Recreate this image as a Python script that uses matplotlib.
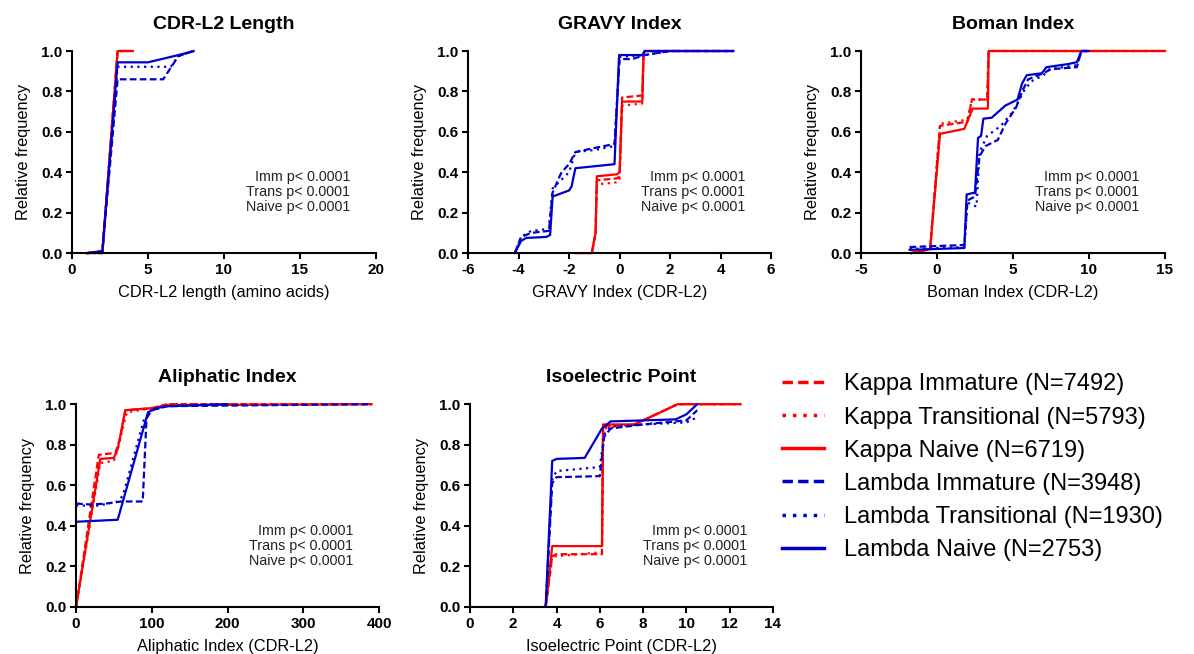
"""Cumulative distributions of CDR-L2 properties for kappa/lambda B-cell subsets."""

import matplotlib
matplotlib.use("Agg")
import matplotlib.pyplot as plt
from matplotlib.lines import Line2D

plt.rcParams["font.family"] = ["Liberation Sans", "DejaVu Sans"]
plt.rcParams["axes.unicode_minus"] = False

# series order: kappa imm, kappa trans, kappa naive, lambda imm, lambda trans, lambda naive
SERIES = [
    "Kappa Immature (N=7492)",
    "Kappa Transitional (N=5793)",
    "Kappa Naive (N=6719)",
    "Lambda Immature (N=3948)",
    "Lambda Transitional (N=1930)",
    "Lambda Naive (N=2753)",
]

# --- CDR-L2 length ---
len_kappa_imm_x = [1, 2, 3, 4]
len_kappa_imm_y = [0.0, 0.0, 1.0, 1.0]
len_kappa_trans_x = [1, 2, 3, 4]
len_kappa_trans_y = [0.0, 0.0, 1.0, 1.0]
len_kappa_naive_x = [1, 2, 3, 4]
len_kappa_naive_y = [0.0, 0.005, 1.0, 1.0]
len_lambda_imm_x = [1, 2, 3, 6, 7, 8]
len_lambda_imm_y = [0.0, 0.01, 0.86, 0.86, 0.975, 1.0]
len_lambda_trans_x = [1, 2, 3, 6.5, 7, 8]
len_lambda_trans_y = [0.0, 0.01, 0.922, 0.922, 0.975, 1.0]
len_lambda_naive_x = [1, 2, 3, 5, 7, 8]
len_lambda_naive_y = [0.0, 0.01, 0.944, 0.944, 0.98, 1.0]

# --- GRAVY index ---
gravy_kappa_imm_x = [-1.1, -0.95, -0.9, -0.1, 0.0, 0.1, 0.9, 0.95, 1.0, 4.5]
gravy_kappa_imm_y = [0.0, 0.1, 0.36, 0.37, 0.38, 0.77, 0.78, 0.99, 1.0, 1.0]
gravy_kappa_trans_x = [-1.1, -0.95, -0.9, -0.1, 0.0, 0.1, 0.9, 0.95, 1.0, 4.5]
gravy_kappa_trans_y = [0.0, 0.1, 0.34, 0.35, 0.36, 0.73, 0.74, 0.99, 1.0, 1.0]
gravy_kappa_naive_x = [-1.75, -1.1, -0.95, -0.9, -0.1, 0.0, 0.1, 0.9, 0.95, 1.0, 4.5]
gravy_kappa_naive_y = [0.0, 0.0, 0.1, 0.38, 0.39, 0.40, 0.75, 0.75, 0.99, 1.0, 1.0]
gravy_lambda_imm_x = [-4.15, -3.9, -3.5, -2.8, -2.65, -2.3, -2.0, -1.75, -1.0, -0.2, 0.0, 0.5, 1.0, 2.0, 4.5]
gravy_lambda_imm_y = [0.0, 0.08, 0.10, 0.11, 0.30, 0.40, 0.44, 0.50, 0.52, 0.54, 0.96, 0.96, 0.98, 1.0, 1.0]
gravy_lambda_trans_x = [-4.15, -3.9, -3.5, -2.8, -2.65, -2.0, -1.75, -1.0, -0.2, 0.0, 1.0, 2.0, 4.5]
gravy_lambda_trans_y = [0.0, 0.08, 0.11, 0.12, 0.32, 0.40, 0.50, 0.51, 0.53, 0.97, 0.98, 1.0, 1.0]
gravy_lambda_naive_x = [-4.15, -3.9, -3.7, -2.9, -2.75, -2.65, -2.0, -1.9, -1.75, -0.2, -0.02, 0.9, 1.0, 4.5]
gravy_lambda_naive_y = [0.0, 0.06, 0.075, 0.08, 0.09, 0.28, 0.31, 0.33, 0.42, 0.44, 0.98, 0.98, 1.0, 1.0]

# --- Boman index ---
boman_kappa_imm_x = [-1.7, -0.45, 0.2, 2.0, 2.3, 3.3, 3.4, 15]
boman_kappa_imm_y = [0.0, 0.02, 0.63, 0.65, 0.76, 0.76, 1.0, 1.0]
boman_kappa_trans_x = [-1.7, -0.45, 0.2, 2.0, 2.3, 3.3, 3.4, 15]
boman_kappa_trans_y = [0.0, 0.02, 0.64, 0.66, 0.76, 0.76, 1.0, 1.0]
boman_kappa_naive_x = [-1.7, -0.45, 0.2, 1.8, 2.35, 3.35, 3.4, 15]
boman_kappa_naive_y = [0.0, 0.02, 0.59, 0.615, 0.715, 0.715, 1.0, 1.0]
boman_lambda_imm_x = [-1.8, 1.8, 2.0, 2.5, 2.8, 3.2, 4.0, 4.5, 5.2, 5.6, 6.0, 7.0, 7.5, 9.2, 9.5, 10]
boman_lambda_imm_y = [0.03, 0.04, 0.26, 0.28, 0.48, 0.53, 0.56, 0.64, 0.72, 0.80, 0.86, 0.89, 0.91, 0.92, 1.0, 1.0]
boman_lambda_trans_x = [-1.8, 1.8, 2.0, 2.6, 2.8, 3.3, 4.2, 5.0, 5.7, 6.2, 7.0, 7.4, 9.2, 9.5, 10]
boman_lambda_trans_y = [0.02, 0.03, 0.25, 0.23, 0.50, 0.58, 0.63, 0.70, 0.80, 0.85, 0.88, 0.91, 0.93, 1.0, 1.0]
boman_lambda_naive_x = [-1.8, 1.8, 1.95, 2.5, 2.7, 2.9, 3.05, 3.6, 4.5, 5.3, 5.6, 5.9, 6.9, 7.2, 8.6, 9.2, 9.5, 10]
boman_lambda_naive_y = [0.016, 0.025, 0.29, 0.30, 0.57, 0.58, 0.665, 0.67, 0.73, 0.76, 0.84, 0.88, 0.89, 0.92, 0.935, 0.945, 1.0, 1.0]

# --- Aliphatic index ---
ali_kappa_imm_x = [0, 30, 52, 58, 65, 100, 120, 390]
ali_kappa_imm_y = [0.0, 0.75, 0.76, 0.83, 0.97, 0.98, 1.0, 1.0]
ali_kappa_trans_x = [0, 32, 50, 55, 67, 100, 120, 390]
ali_kappa_trans_y = [0.0, 0.71, 0.72, 0.78, 0.96, 0.98, 1.0, 1.0]
ali_kappa_naive_x = [0, 32, 50, 55, 65, 80, 100, 120, 390]
ali_kappa_naive_y = [0.0, 0.73, 0.735, 0.78, 0.97, 0.975, 0.98, 0.995, 1.0]
ali_lambda_imm_x = [0, 20, 40, 60, 88, 93, 100, 120, 390]
ali_lambda_imm_y = [0.51, 0.505, 0.51, 0.52, 0.52, 0.93, 0.97, 0.99, 1.0]
ali_lambda_trans_x = [0, 30, 55, 62, 90, 100, 120, 200]
ali_lambda_trans_y = [0.50, 0.50, 0.52, 0.55, 0.93, 0.97, 0.99, 1.0]
ali_lambda_naive_x = [0, 55, 95, 105, 120, 200]
ali_lambda_naive_y = [0.42, 0.43, 0.96, 0.98, 0.99, 1.0]

# --- Isoelectric point ---
pi_kappa_imm_x = [3.5, 3.8, 4.0, 6.1, 6.15, 7.6, 9.6, 12.5]
pi_kappa_imm_y = [0.0, 0.25, 0.26, 0.26, 0.89, 0.90, 1.0, 1.0]
pi_kappa_trans_x = [3.5, 3.8, 4.0, 6.1, 6.15, 7.6, 9.6, 12.5]
pi_kappa_trans_y = [0.0, 0.25, 0.25, 0.27, 0.88, 0.90, 1.0, 1.0]
pi_kappa_naive_x = [3.5, 3.8, 6.1, 6.15, 7.6, 9.6, 12.5]
pi_kappa_naive_y = [0.0, 0.30, 0.30, 0.90, 0.90, 1.0, 1.0]
pi_lambda_imm_x = [3.5, 3.8, 4.0, 6.0, 6.2, 6.5, 8.0, 10.0, 10.5]
pi_lambda_imm_y = [0.0, 0.61, 0.64, 0.645, 0.84, 0.88, 0.90, 0.92, 0.97]
pi_lambda_trans_x = [3.5, 3.8, 4.0, 6.0, 6.2, 6.5, 8.0, 10.0, 10.4]
pi_lambda_trans_y = [0.0, 0.63, 0.67, 0.69, 0.85, 0.89, 0.90, 0.91, 0.93]
pi_lambda_naive_x = [3.5, 3.8, 4.0, 5.3, 6.1, 6.5, 8.0, 9.5, 10.0, 10.5]
pi_lambda_naive_y = [0.0, 0.72, 0.73, 0.735, 0.88, 0.915, 0.92, 0.925, 0.95, 1.0]

PANELS = [
    {
        "title": "CDR-L2 Length",
        "xlabel": "CDR-L2 length (amino acids)",
        "xlim": (0, 20), "xticks": [0, 5, 10, 15, 20],
        "data": [
            (len_kappa_imm_x, len_kappa_imm_y), (len_kappa_trans_x, len_kappa_trans_y),
            (len_kappa_naive_x, len_kappa_naive_y), (len_lambda_imm_x, len_lambda_imm_y),
            (len_lambda_trans_x, len_lambda_trans_y), (len_lambda_naive_x, len_lambda_naive_y),
        ],
    },
    {
        "title": "GRAVY Index",
        "xlabel": "GRAVY Index (CDR-L2)",
        "xlim": (-6, 6), "xticks": [-6, -4, -2, 0, 2, 4, 6],
        "data": [
            (gravy_kappa_imm_x, gravy_kappa_imm_y), (gravy_kappa_trans_x, gravy_kappa_trans_y),
            (gravy_kappa_naive_x, gravy_kappa_naive_y), (gravy_lambda_imm_x, gravy_lambda_imm_y),
            (gravy_lambda_trans_x, gravy_lambda_trans_y), (gravy_lambda_naive_x, gravy_lambda_naive_y),
        ],
    },
    {
        "title": "Boman Index",
        "xlabel": "Boman Index (CDR-L2)",
        "xlim": (-5, 15), "xticks": [-5, 0, 5, 10, 15],
        "data": [
            (boman_kappa_imm_x, boman_kappa_imm_y), (boman_kappa_trans_x, boman_kappa_trans_y),
            (boman_kappa_naive_x, boman_kappa_naive_y), (boman_lambda_imm_x, boman_lambda_imm_y),
            (boman_lambda_trans_x, boman_lambda_trans_y), (boman_lambda_naive_x, boman_lambda_naive_y),
        ],
    },
    {
        "title": "Aliphatic Index",
        "xlabel": "Aliphatic Index (CDR-L2)",
        "xlim": (0, 400), "xticks": [0, 100, 200, 300, 400],
        "data": [
            (ali_kappa_imm_x, ali_kappa_imm_y), (ali_kappa_trans_x, ali_kappa_trans_y),
            (ali_kappa_naive_x, ali_kappa_naive_y), (ali_lambda_imm_x, ali_lambda_imm_y),
            (ali_lambda_trans_x, ali_lambda_trans_y), (ali_lambda_naive_x, ali_lambda_naive_y),
        ],
    },
    {
        "title": "Isoelectric Point",
        "xlabel": "Isoelectric Point (CDR-L2)",
        "xlim": (0, 14), "xticks": [0, 2, 4, 6, 8, 10, 12, 14],
        "data": [
            (pi_kappa_imm_x, pi_kappa_imm_y), (pi_kappa_trans_x, pi_kappa_trans_y),
            (pi_kappa_naive_x, pi_kappa_naive_y), (pi_lambda_imm_x, pi_lambda_imm_y),
            (pi_lambda_trans_x, pi_lambda_trans_y), (pi_lambda_naive_x, pi_lambda_naive_y),
        ],
    },
]

RED = "#ff0000"
BLUE = "#0000cc"
STYLES = [
    dict(color=RED, linestyle=(0, (3, 1.5))),
    dict(color=RED, linestyle=(0, (1, 2))),
    dict(color=RED, linestyle="-"),
    dict(color=BLUE, linestyle=(0, (3, 1.5))),
    dict(color=BLUE, linestyle=(0, (1, 2))),
    dict(color=BLUE, linestyle="-"),
]

# axes rectangles in figure fraction
AX_RECTS = [
    [0.0603, 0.613, 0.2546, 0.309],
    [0.392, 0.613, 0.2538, 0.309],
    [0.7211, 0.613, 0.2546, 0.309],
    [0.0637, 0.072, 0.2538, 0.310],
    [0.3936, 0.072, 0.2538, 0.310],
]


def draw_panel(ax, panel):
    for (x, y), style in zip(panel["data"], STYLES):
        ax.plot(x, y, lw=1.6, clip_on=False, **style)
    ax.set_xlim(*panel["xlim"])
    ax.set_ylim(0, 1.0)
    ax.set_xticks(panel["xticks"])
    yt = [0, 0.2, 0.4, 0.6, 0.8, 1.0]
    ax.set_yticks(yt)
    ax.set_yticklabels([f"{v:.1f}" for v in yt])
    for lab in ax.get_xticklabels() + ax.get_yticklabels():
        lab.set_fontweight("bold")
        lab.set_fontsize(11)
    ax.spines["top"].set_visible(False)
    ax.spines["right"].set_visible(False)
    ax.spines["left"].set_linewidth(1.5)
    ax.spines["bottom"].set_linewidth(1.5)
    ax.tick_params(width=1.5, length=4, direction="out", pad=3)
    ax.set_title(panel["title"], fontsize=14, fontweight="bold", pad=16)
    ax.set_xlabel(panel["xlabel"], fontsize=11.8, labelpad=6)
    ax.set_ylabel("Relative frequency", fontsize=11.8, labelpad=7)
    txt = "Imm p< 0.0001\nTrans p< 0.0001\nNaive p< 0.0001"
    ax.text(0.915, 0.41, txt, transform=ax.transAxes, ha="right", va="top",
            fontsize=10.3, color="#222222", linespacing=1.1)


def main():
    fig = plt.figure(figsize=(11.94, 6.54), dpi=100)
    for rect, panel in zip(AX_RECTS, PANELS):
        ax = fig.add_axes(rect)
        draw_panel(ax, panel)

    handles = [Line2D([], [], lw=2.5, **style) for style in STYLES]
    fig.legend(handles, SERIES, loc="upper left", bbox_to_anchor=(0.645, 0.447),
               frameon=False, fontsize=17, handlelength=1.78, labelspacing=0.47,
               handletextpad=0.85, borderpad=0)

    fig.savefig("out.png", dpi=100)
    plt.close(fig)


if __name__ == "__main__":
    main()
